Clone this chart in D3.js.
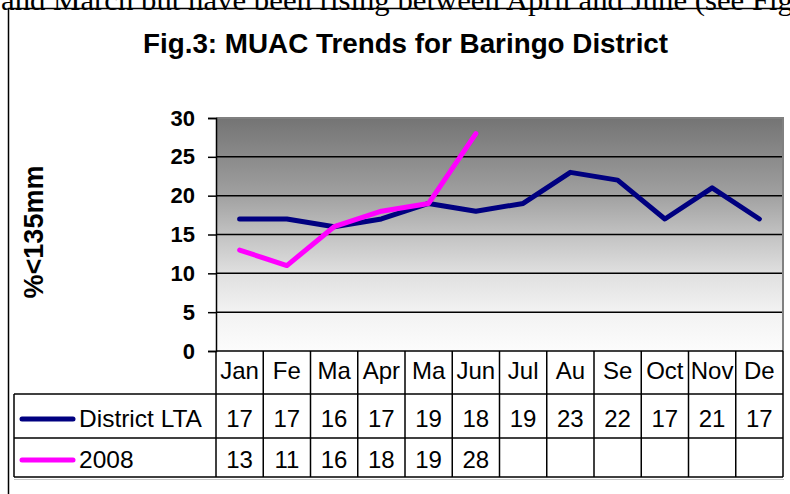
<!DOCTYPE html>
<html>
<head>
<meta charset="utf-8">
<script src="https://cdn.jsdelivr.net/npm/d3@7"></script>
<style>
  body { margin: 0; background: #fff; }
  svg { display: block; }
</style>
</head>
<body>
<script>
// chart data
var months = ['Jan', 'Fe', 'Ma', 'Apr', 'Ma', 'Jun', 'Jul', 'Au', 'Se', 'Oct', 'Nov', 'De'];
var districtLTA = [17, 17, 16, 17, 19, 18, 19, 23, 22, 17, 21, 17];
var year2008 = [13, 11, 16, 18, 19, 28, null, null, null, null, null, null];
var seriesNames = ['District LTA', '2008'];
var yTicks = [0, 5, 10, 15, 20, 25, 30];

var width = 790, height = 494;
var plotLeft = 216, plotRight = 783, plotTop = 118, plotBottom = 351;
var rowLines = [351, 394, 438, 477];
var tableLeft = 14;
var font = 'Arial, "Liberation Sans", sans-serif';

var svg = d3.select('body').append('svg').attr('width', width).attr('height', height);

// bit of document text above the chart (cut off by the page top, as in the scan)
svg.append('text')
   .attr('x', 1).attr('y', 10)
   .attr('font-family', '"Liberation Serif", "Times New Roman", serif')
   .attr('font-size', 30)
   .attr('textLength', 792).attr('lengthAdjust', 'spacingAndGlyphs')
   .text('and March but have been rising between April and June (see Fig');

// outer chart frame (only top + left show)
svg.append('path')
   .attr('d', 'M8.5,' + (height + 2) + 'V8.5H' + (width + 2))
   .attr('fill', 'none').attr('stroke', '#000').attr('stroke-width', 1.5);

svg.append('text')
   .attr('x', 143).attr('y', 53)
   .attr('font-family', font)
   .attr('font-weight', 'bold').attr('font-size', 27.8)
   .text('Fig.3: MUAC Trends for Baringo District');

var x = d3.scaleBand().domain(d3.range(months.length)).range([plotLeft, plotRight]);
var y = d3.scaleLinear().domain([0, 30]).range([plotBottom, plotTop]);

// background gradient
var grad = svg.append('defs').append('linearGradient')
   .attr('id', 'bg').attr('x1', 0).attr('y1', 0).attr('x2', 0).attr('y2', 1);
[[0, '#747474'], [0.33, '#a0a0a0'], [0.5, '#c2c2c2'], [0.67, '#e0e0e0'], [0.83, '#f2f2f2'], [1, '#fcfcfc']]
   .forEach(function (s) {
     grad.append('stop').attr('offset', s[0]).attr('stop-color', s[1]);
   });

svg.append('rect')
   .attr('x', plotLeft).attr('y', plotTop)
   .attr('width', plotRight - plotLeft).attr('height', plotBottom - plotTop)
   .attr('fill', 'url(#bg)');

// gridlines
svg.selectAll('.grid')
   .data(yTicks.slice(1, -1))
   .enter().append('line')
   .attr('x1', plotLeft).attr('x2', plotRight)
   .attr('y1', function (d) { return y(d); })
   .attr('y2', function (d) { return y(d); })
   .attr('stroke', '#000').attr('stroke-width', 1.5);

// plot border top/right grey
svg.append('path')
   .attr('d', 'M' + plotLeft + ',' + plotTop + 'H' + plotRight + 'V' + plotBottom)
   .attr('fill', 'none').attr('stroke', '#808080').attr('stroke-width', 2);

// y axis
var yAxis = svg.append('g')
   .attr('transform', 'translate(' + plotLeft + ',0)')
   .call(d3.axisLeft(y).tickValues(yTicks).tickSize(8).tickPadding(13));
yAxis.select('.domain').attr('stroke-width', 1.5);
yAxis.selectAll('.tick line').attr('stroke-width', 1.5);
yAxis.selectAll('text')
   .attr('font-family', font)
   .attr('font-weight', 'bold').attr('font-size', 22).attr('fill', '#000');

svg.append('text')
   .attr('transform', 'translate(43,232) rotate(-90)')
   .attr('text-anchor', 'middle')
   .attr('font-family', font)
   .attr('font-weight', 'bold').attr('font-size', 27)
   .text('%<135mm');

// lines
var colors = ['#000080', '#ff00ff'];
var line = d3.line()
   .defined(function (d) { return d != null; })
   .x(function (d, i) { return x(i) + x.bandwidth() / 2; })
   .y(function (d) { return y(d); });

[districtLTA, year2008].forEach(function (vals, k) {
  svg.append('path')
     .datum(vals)
     .attr('d', line)
     .attr('fill', 'none')
     .attr('stroke', colors[k])
     .attr('stroke-width', 5)
     .attr('stroke-linejoin', 'round')
     .attr('stroke-linecap', 'round');
});

// data table
var table = svg.append('g').attr('stroke', '#000').attr('stroke-width', 1.5);
table.append('line').attr('x1', plotLeft).attr('x2', plotRight).attr('y1', rowLines[0]).attr('y2', rowLines[0]);
rowLines.slice(1).forEach(function (ry) {
  table.append('line').attr('x1', tableLeft).attr('x2', plotRight).attr('y1', ry).attr('y2', ry);
});
table.append('line').attr('x1', tableLeft).attr('x2', tableLeft).attr('y1', rowLines[1]).attr('y2', rowLines[3]);
d3.range(months.length + 1).forEach(function (i) {
  var cx = i < months.length ? x(i) : plotRight;
  table.append('line').attr('x1', cx).attr('x2', cx).attr('y1', rowLines[0]).attr('y2', rowLines[3]);
});
// faint shadow under table
svg.append('line').attr('x1', tableLeft).attr('x2', plotRight + 1)
   .attr('y1', rowLines[3] + 2.5).attr('y2', rowLines[3] + 2.5)
   .attr('stroke', '#c8c8c8').attr('stroke-width', 1);

svg.selectAll('.month')
   .data(months).enter().append('text')
   .attr('x', function (d, i) { return x(i) + x.bandwidth() / 2; })
   .attr('y', 379)
   .attr('text-anchor', 'middle')
   .attr('font-family', font).attr('font-size', 24)
   .text(function (d) { return d; });

var rowBase = [427, 468];
[districtLTA, year2008].forEach(function (vals, k) {
  svg.selectAll('.val' + k)
     .data(vals).enter().append('text')
     .attr('x', function (d, i) { return x(i) + x.bandwidth() / 2; })
     .attr('y', rowBase[k])
     .attr('text-anchor', 'middle')
     .attr('font-family', font).attr('font-size', 24)
     .text(function (d) { return d == null ? '' : d; });

  svg.append('line')
     .attr('x1', 22).attr('x2', 73)
     .attr('y1', rowBase[k] - 8).attr('y2', rowBase[k] - 8)
     .attr('stroke', colors[k]).attr('stroke-width', 5).attr('stroke-linecap', 'round');
  svg.append('text')
     .attr('x', 79).attr('y', rowBase[k])
     .attr('font-family', font).attr('font-size', 24.5)
     .text(seriesNames[k]);
});
</script>
</body>
</html>
